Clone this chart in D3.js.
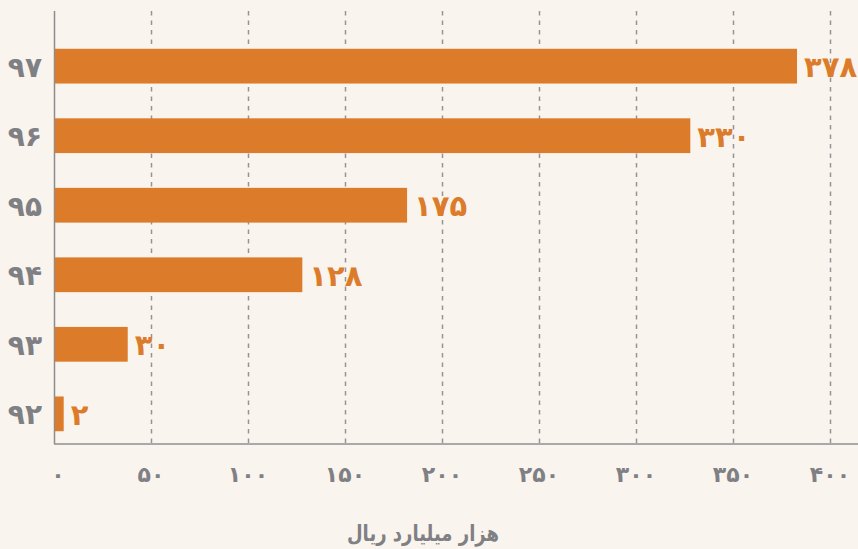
<!DOCTYPE html>
<html>
<head>
<meta charset="utf-8">
<script src="https://cdn.jsdelivr.net/npm/d3@7"></script>
<style>
    html, body { margin: 0; padding: 0; background: #faf4ee; }
    svg { display: block; font-family: "DejaVu Sans", sans-serif; }
</style>
</head>
<body>
<svg id="chart"></svg>
<script>
// Data
const years = ["۹۷", "۹۶", "۹۵", "۹۴", "۹۳", "۹۲"];
const barLengths = [383, 328, 182, 128, 38, 5];          // bar ends measured on the x axis
const valueLabels = ["۳۷۸", "۳۳۰", "۱۷۵", "۱۲۸", "۳۰", "۲"]; // numbers printed beside the bars
const xTicks = [0, 50, 100, 150, 200, 250, 300, 350, 400];
const xTickLabels = ["۰", "۵۰", "۱۰۰", "۱۵۰", "۲۰۰", "۲۵۰", "۳۰۰", "۳۵۰", "۴۰۰"];
const axisTitle = "هزار میلیارد ریال";

const W = 858, H = 549;
const x0 = 54, axisY = 444;

const svg = d3.select("#chart")
    .attr("width", W)
    .attr("height", H);

svg.append("rect")
    .attr("width", W)
    .attr("height", H)
    .attr("fill", "#faf4ee");

const x = d3.scaleLinear()
    .domain([0, 400])
    .range([x0, x0 + 776]);

const y = d3.scaleBand()
    .domain(years)
    .range([14, 466])
    .paddingInner(0.5)
    .paddingOuter(0.5);

// grid lines
svg.append("g")
    .selectAll("line")
    .data(xTicks.slice(1))
    .enter().append("line")
    .attr("x1", d => Math.round(x(d)) + 0.5)
    .attr("x2", d => Math.round(x(d)) + 0.5)
    .attr("y1", 11)
    .attr("y2", axisY)
    .attr("stroke", "#949494")
    .attr("stroke-width", 1.5)
    .attr("stroke-dasharray", "4.5,5");

// x axis line
svg.append("line")
    .attr("x1", x0)
    .attr("x2", W)
    .attr("y1", axisY)
    .attr("y2", axisY)
    .attr("stroke", "#a9a9a9")
    .attr("stroke-width", 2);

// y axis line
svg.append("line")
    .attr("x1", x0 + 0.5)
    .attr("x2", x0 + 0.5)
    .attr("y1", 11)
    .attr("y2", axisY)
    .attr("stroke", "#8c8c8c")
    .attr("stroke-width", 1.5);

// bars
svg.append("g")
    .selectAll("rect")
    .data(years)
    .enter().append("rect")
    .attr("x", x0 + 1)
    .attr("y", d => y(d))
    .attr("width", (d, i) => x(barLengths[i]) - x0 - 1)
    .attr("height", y.bandwidth())
    .attr("fill", "#dc7c2a");

// value labels
svg.append("g")
    .selectAll("text")
    .data(years)
    .enter().append("text")
    .attr("x", (d, i) => x(barLengths[i]) + 7)
    .attr("y", d => y(d) + y.bandwidth() / 2)
    .attr("dy", "0.38em")
    .attr("direction", "ltr")
    .attr("fill", "#dc7c2a")
    .style("font-size", "29px")
    .style("font-weight", "bold")
    .style("letter-spacing", "-2px")
    .text((d, i) => valueLabels[i]);

// year labels
svg.append("g")
    .selectAll("text")
    .data(years)
    .enter().append("text")
    .attr("x", 42)
    .attr("y", d => y(d) + y.bandwidth() / 2)
    .attr("dy", "0.38em")
    .attr("text-anchor", "end")
    .attr("fill", "#7f8084")
    .style("font-size", "28px")
    .style("font-weight", "bold")
    .style("letter-spacing", "-1px")
    .text(d => d);

// x tick labels
svg.append("g")
    .selectAll("text")
    .data(xTicks)
    .enter().append("text")
    .attr("x", d => x(d) + (d === 0 ? 4 : 0))
    .attr("y", 474)
    .attr("dy", "0.38em")
    .attr("text-anchor", "middle")
    .attr("fill", "#7f8084")
    .style("font-size", "22px")
    .style("font-weight", "bold")
    .text((d, i) => xTickLabels[i]);

// axis title, narrowed to the width of the original
svg.append("text")
    .attr("transform", "translate(423,533) scale(0.82,1)")
    .attr("dy", "0.38em")
    .attr("text-anchor", "middle")
    .attr("fill", "#7f8084")
    .style("font-size", "22px")
    .style("font-weight", "bold")
    .text(axisTitle);
</script>
</body>
</html>
